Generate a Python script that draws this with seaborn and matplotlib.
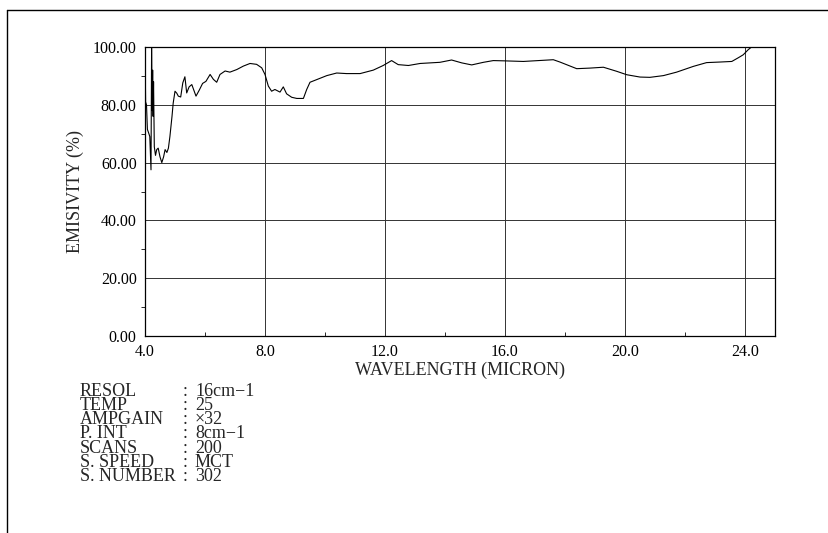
import numpy as np
import pandas as pd
import matplotlib
matplotlib.use("Agg")
import matplotlib.pyplot as plt
from matplotlib.lines import Line2D
from matplotlib.ticker import MultipleLocator, FormatStrFormatter
import seaborn as sns

# Spectrum values
wavelength = [4.00, 4.02, 4.05, 4.08, 4.13, 4.16, 4.20, 4.22, 4.24, 4.255,
              4.27, 4.285, 4.31, 4.35, 4.39, 4.44, 4.50, 4.56, 4.62, 4.67,
              4.73, 4.78, 4.83, 4.90, 4.94, 5.00, 5.06, 5.11, 5.19, 5.26,
              5.33, 5.39, 5.47, 5.56, 5.63, 5.70, 5.81, 5.92, 6.03, 6.17,
              6.28, 6.39, 6.50, 6.67, 6.83, 7.06, 7.28, 7.50, 7.72, 7.89,
              8.00, 8.11, 8.22, 8.33, 8.50, 8.61, 8.72, 8.89, 9.06, 9.28,
              9.39, 9.50, 9.72, 10.06, 10.39, 10.72, 11.17, 11.61, 11.94, 12.22,
              12.44, 12.78, 13.17, 13.83, 14.22, 14.56, 14.89, 15.28, 15.61, 16.00,
              16.61, 17.28, 17.61, 17.83, 18.39, 18.83, 19.28, 19.72, 20.06, 20.50,
              20.83, 21.28, 21.72, 22.28, 22.72, 23.17, 23.56, 23.78, 23.94, 24.11,
              24.28, 25.00]
emissivity = [100.0, 81.0, 80.0, 71.5, 70.0, 69.0, 57.5, 100.0, 78.0, 92.0,
              76.0, 88.0, 65.5, 62.5, 64.5, 65.0, 62.0, 60.0, 62.0, 64.5,
              63.5, 65.0, 69.0, 76.0, 80.6, 84.7, 84.0, 83.0, 82.7, 87.6,
              89.7, 84.1, 86.2, 87.0, 85.0, 83.0, 85.1, 87.4, 88.1, 90.5,
              88.8, 87.8, 90.5, 91.7, 91.3, 92.2, 93.4, 94.3, 94.0, 92.8,
              90.5, 86.5, 84.7, 85.3, 84.4, 86.2, 83.8, 82.6, 82.2, 82.2,
              85.3, 87.8, 88.7, 90.1, 91.0, 90.8, 90.8, 92.0, 93.6, 95.3,
              93.9, 93.6, 94.3, 94.7, 95.5, 94.5, 93.8, 94.7, 95.3, 95.2,
              95.0, 95.4, 95.6, 94.8, 92.5, 92.7, 93.0, 91.6, 90.4, 89.6,
              89.5, 90.1, 91.3, 93.3, 94.6, 94.8, 95.0, 96.3, 97.3, 99.1,
              100.5, 102.0]

x_ticks = [4.0, 8.0, 12.0, 16.0, 20.0, 24.0]
y_ticks = [0, 20, 40, 60, 80, 100]

info_labels = ["RESOL", "TEMP", "AMPGAIN", "P. INT", "SCANS", "S. SPEED", "S. NUMBER"]
info_values = ["16cm\u22121", "25", "\u00d732", "8cm\u22121", "200", "MCT", "302"]

df = pd.DataFrame({"wavelength": wavelength, "emissivity": emissivity})

sns.set_style("white")
plt.rcParams["font.family"] = ["Liberation Serif", "DejaVu Serif"]

fig = plt.figure(figsize=(8.29, 5.33), dpi=100)
ax = fig.add_axes([145 / 829, 1 - 336 / 533, 630 / 829, 289 / 533])

sns.lineplot(data=df, x="wavelength", y="emissivity", ax=ax, color="black",
             linewidth=0.8, sort=False, estimator=None)

ax.set_xlim(4, 25)
ax.set_ylim(0, 100)
ax.set_xticks(x_ticks)
ax.set_yticks(y_ticks)
ax.xaxis.set_major_formatter(FormatStrFormatter("%.1f"))
ax.yaxis.set_major_formatter(FormatStrFormatter("%.2f"))
ax.xaxis.set_minor_locator(MultipleLocator(2))
ax.yaxis.set_minor_locator(MultipleLocator(10))

ax.grid(True, which="major", color="#333333", linewidth=0.7)
ax.tick_params(axis="x", which="major", direction="out", length=5, width=0.7,
               labelsize=11.5, pad=1, colors="black")
ax.tick_params(axis="x", which="minor", direction="in", length=3, width=0.7,
               bottom=True)
ax.tick_params(axis="y", which="major", direction="out", length=5, width=0.7,
               labelsize=11.5, pad=1, colors="black")
ax.tick_params(axis="y", which="minor", direction="out", length=3, width=0.7,
               left=True)
for sp in ax.spines.values():
    sp.set_color("black")
    sp.set_linewidth(0.9)

ax.set_xlabel("WAVELENGTH (MICRON)", fontsize=13, labelpad=1)
ax.set_ylabel("EMISIVITY (%)", fontsize=13, labelpad=6)

# parameter block under the plot: three columns, 14 px line pitch
block_y = 1 - 434 / 533
pitch = 14 / (13 * 100 / 72)
fig.text(80 / 829, block_y, "\n".join(info_labels), fontsize=13,
         va="center", ha="left", linespacing=pitch)
fig.text(183 / 829, block_y, "\n".join([":"] * len(info_labels)), fontsize=13,
         va="center", ha="left", linespacing=pitch)
fig.text(195 / 829, block_y, "\n".join(info_values), fontsize=13,
         va="center", ha="left", linespacing=pitch)

# page frame (top and left edges of the scanned sheet)
fig.add_artist(Line2D([7 / 829, 1.0], [1 - 10 / 533, 1 - 10 / 533],
                      transform=fig.transFigure, color="black", linewidth=1.0))
fig.add_artist(Line2D([7 / 829, 7 / 829], [0.0, 1 - 10 / 533],
                      transform=fig.transFigure, color="black", linewidth=1.0))

fig.savefig("out.png", dpi=100)
